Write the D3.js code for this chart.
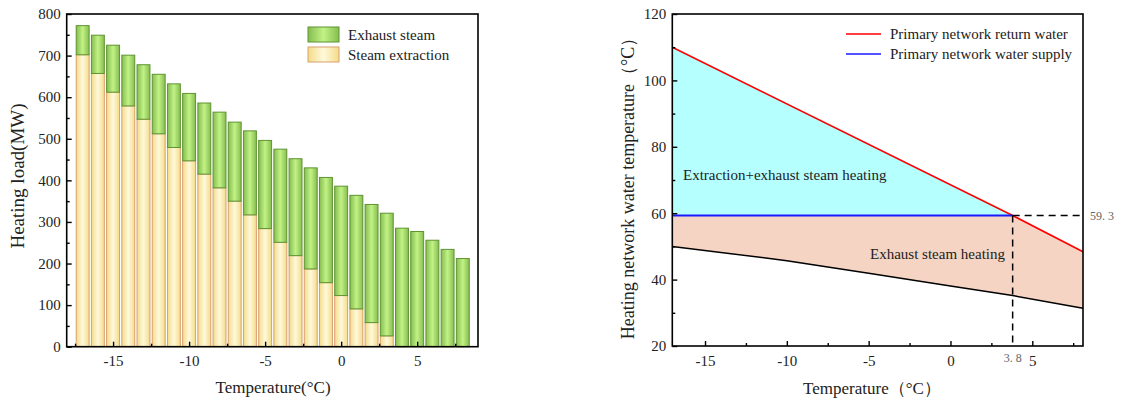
<!DOCTYPE html>
<html>
<head>
<meta charset="utf-8">
<script src="https://cdn.jsdelivr.net/npm/d3@7"></script>
<style>
  body { margin: 0; background: #fff; }
  svg text { font-family: "Liberation Serif", "Times New Roman", serif; fill: #222; }
  .axis path { stroke: #000; stroke-width: 1.6; }
  .axis line { stroke: #000; stroke-width: 1.4; }
  .axis text { font-size: 15px; }
</style>
</head>
<body>
<svg id="chart" width="1126" height="402"></svg>
<script>
// ---- left chart: heating load per outdoor temperature ----
const temps = [-17, -16, -15, -14, -13, -12, -11, -10, -9, -8, -7, -6, -5, -4, -3, -2, -1, 0, 1, 2, 3, 4, 5, 6, 7, 8];
const totalLoad = [772, 749, 725, 701, 678, 655, 632, 609, 586, 564, 540, 519, 496, 475, 452, 430, 407, 386, 364, 342, 321, 285, 277, 256, 234, 212];
const extractionLoad = [702, 657, 612, 579, 547, 512, 479, 447, 415, 382, 350, 317, 284, 251, 219, 187, 154, 123, 91, 58, 26, 0, 0, 0, 0, 0];
const loadTicks = [0, 100, 200, 300, 400, 500, 600, 700, 800];
const tempTicks = [-15, -10, -5, 0, 5];

// ---- right chart: network water temperatures ----
const returnX = [-17, 3.8, 8.1];
const returnY = [110, 59.3, 48.4];
const supplyX = [-17, 3.8];
const supplyY = [59.3, 59.3];
const backX = [-17, -10, -5, 0, 3.8, 8.1];
const backY = [50, 45.7, 41.9, 38.1, 35.2, 31.4];
const waterTicks = [20, 40, 60, 80, 100, 120];
const switchTemp = 3.8;
const switchWater = 59.3;

const svg = d3.select('#chart');
const defs = svg.append('defs');

function hGrad(id, edge, mid) {
  const g = defs.append('linearGradient').attr('id', id)
    .attr('x1', '0%').attr('x2', '100%').attr('y1', '0%').attr('y2', '0%');
  g.append('stop').attr('offset', '0%').attr('stop-color', edge);
  g.append('stop').attr('offset', '50%').attr('stop-color', mid);
  g.append('stop').attr('offset', '100%').attr('stop-color', edge);
}
hGrad('gGreen', '#86bd50', '#c2f286');
hGrad('gYellow', '#f3dc88', '#fff9dc');

// plain hyphen for negatives, like the original
const fmt = d => String(d);

// draws a box frame with inward ticks
function frame(g, x, y, xMajor, xMinor, yMajor, yMinor) {
  const [x0, x1] = x.range();
  const [y0, y1] = y.range();
  g.append('g').attr('class', 'axis').attr('transform', `translate(0,${y0})`)
    .call(d3.axisBottom(x).tickValues(xMinor).tickSize(-3).tickFormat(''));
  g.append('g').attr('class', 'axis').attr('transform', `translate(0,${y0})`)
    .call(d3.axisBottom(x).tickValues(xMajor).tickSize(-5).tickPadding(9).tickFormat(fmt));
  g.append('g').attr('class', 'axis').attr('transform', `translate(${x0},0)`)
    .call(d3.axisLeft(y).tickValues(yMinor).tickSize(-3).tickFormat(''));
  g.append('g').attr('class', 'axis').attr('transform', `translate(${x0},0)`)
    .call(d3.axisLeft(y).tickValues(yMajor).tickSize(-5).tickPadding(6).tickFormat(fmt));
  g.selectAll('.axis .domain').remove();
  g.append('rect').attr('x', x0).attr('y', y1).attr('width', x1 - x0).attr('height', y0 - y1)
    .attr('fill', 'none').attr('stroke', '#000').attr('stroke-width', 1.6);
}

// ---------- left ----------
{
  const g = svg.append('g');
  const x = d3.scaleLinear().domain([-18.05, 9.0]).range([66.7, 478]);
  const y = d3.scaleLinear().domain([0, 800]).range([346.7, 14]);
  const bw = x(0.85) - x(0);

  const rows = temps.map((t, i) => ({ t, ext: extractionLoad[i], tot: totalLoad[i] }));
  g.selectAll('.ext').data(rows.filter(d => d.ext > 0)).join('rect')
    .attr('x', d => x(d.t) - bw / 2).attr('width', bw)
    .attr('y', d => y(d.ext)).attr('height', d => y(0) - y(d.ext))
    .attr('fill', 'url(#gYellow)').attr('stroke', '#d9a070').attr('stroke-width', 1);
  g.selectAll('.exh').data(rows).join('rect')
    .attr('x', d => x(d.t) - bw / 2).attr('width', bw)
    .attr('y', d => y(d.tot)).attr('height', d => y(d.ext) - y(d.tot))
    .attr('fill', 'url(#gGreen)').attr('stroke', '#5f9433').attr('stroke-width', 1);

  frame(g, x, y, tempTicks, [-17.5, -12.5, -7.5, -2.5, 2.5, 7.5],
    loadTicks, [50, 150, 250, 350, 450, 550, 650, 750]);

  g.append('text').attr('x', 273).attr('y', 393).attr('text-anchor', 'middle')
    .attr('font-size', 17).text('Temperature(°C)');
  g.append('text').attr('transform', 'translate(24,176) rotate(-90)').attr('text-anchor', 'middle')
    .attr('font-size', 19).text('Heating load(MW)');

  const leg = [['Exhaust steam', 'url(#gGreen)', '#5f9433'], ['Steam extraction', 'url(#gYellow)', '#d9a070']];
  leg.forEach(([name, fill, stroke], i) => {
    g.append('rect').attr('x', 308).attr('y', 27 + i * 20).attr('width', 31).attr('height', 15)
      .attr('fill', fill).attr('stroke', stroke);
    g.append('text').attr('x', 348).attr('y', 40 + i * 20).attr('font-size', 15).text(name);
  });
}

// ---------- right ----------
{
  const g = svg.append('g');
  const x = d3.scaleLinear().domain([-17, 8.1]).range([672.3, 1083]);
  const y = d3.scaleLinear().domain([20, 120]).range([346, 14]);

  const ret = returnX.map((t, i) => [t, returnY[i]]);
  const sup = supplyX.map((t, i) => [t, supplyY[i]]);
  const back = backX.map((t, i) => [t, backY[i]]);
  const line = d3.line().x(d => x(d[0])).y(d => y(d[1]));

  // cyan: between return water line and supply level, up to switch point
  const cyan = ret.filter(d => d[0] <= switchTemp).concat(sup.slice().reverse());
  g.append('path').attr('d', line(cyan) + 'Z').attr('fill', '#b5ffff');

  // salmon: between min(return, supply level) and back water line
  const upper = [[-17, switchWater], [switchTemp, switchWater]].concat(ret.filter(d => d[0] > switchTemp));
  const salmon = upper.concat(back.slice().reverse());
  g.append('path').attr('d', line(salmon) + 'Z').attr('fill', '#f5d4c3');

  g.append('path').attr('d', line(back)).attr('fill', 'none').attr('stroke', '#000').attr('stroke-width', 1.5);
  g.append('path').attr('d', line(ret)).attr('fill', 'none').attr('stroke', '#ff0000').attr('stroke-width', 1.6);
  g.append('path').attr('d', line(sup)).attr('fill', 'none').attr('stroke', '#1a1aff').attr('stroke-width', 2);

  // dashed guides at switch point
  g.append('line').attr('x1', x(switchTemp)).attr('x2', x(8.1)).attr('y1', y(switchWater)).attr('y2', y(switchWater))
    .attr('stroke', '#000').attr('stroke-width', 1.5).attr('stroke-dasharray', '7,5');
  g.append('line').attr('x1', x(switchTemp)).attr('x2', x(switchTemp)).attr('y1', y(switchWater)).attr('y2', y(20))
    .attr('stroke', '#000').attr('stroke-width', 1.5).attr('stroke-dasharray', '7,5');

  frame(g, x, y, tempTicks, [-12.5, -7.5, -2.5, 2.5, 7.5],
    waterTicks, [30, 50, 70, 90, 110]);

  g.append('text').attr('x', x(8.1) + 7).attr('y', y(switchWater) + 4).attr('font-size', 12)
    .style('fill', '#666').text('59. 3');
  g.append('text').attr('x', x(switchTemp)).attr('y', 362).attr('text-anchor', 'middle').attr('font-size', 12)
    .style('fill', '#666').text('3. 8');

  g.append('text').attr('x', 683).attr('y', 180).attr('font-size', 15).text('Extraction+exhaust steam heating');
  g.append('text').attr('x', 1005).attr('y', 259).attr('text-anchor', 'end').attr('font-size', 15).text('Exhaust steam heating');

  g.append('text').attr('x', 872).attr('y', 394).attr('text-anchor', 'middle')
    .attr('font-size', 17).text('Temperature（°C）');
  g.append('text').attr('transform', 'translate(634,184) rotate(-90)').attr('text-anchor', 'middle')
    .attr('font-size', 18).text('Heating network water temperature（°C）');

  const leg = [['Primary network return water', '#ff0000'], ['Primary network water supply', '#1a1aff']];
  leg.forEach(([name, c], i) => {
    g.append('line').attr('x1', 846).attr('x2', 881).attr('y1', 34 + i * 20).attr('y2', 34 + i * 20)
      .attr('stroke', c).attr('stroke-width', 1.6);
    g.append('text').attr('x', 890).attr('y', 39 + i * 20).attr('font-size', 15).text(name);
  });
}
</script>
</body>
</html>
